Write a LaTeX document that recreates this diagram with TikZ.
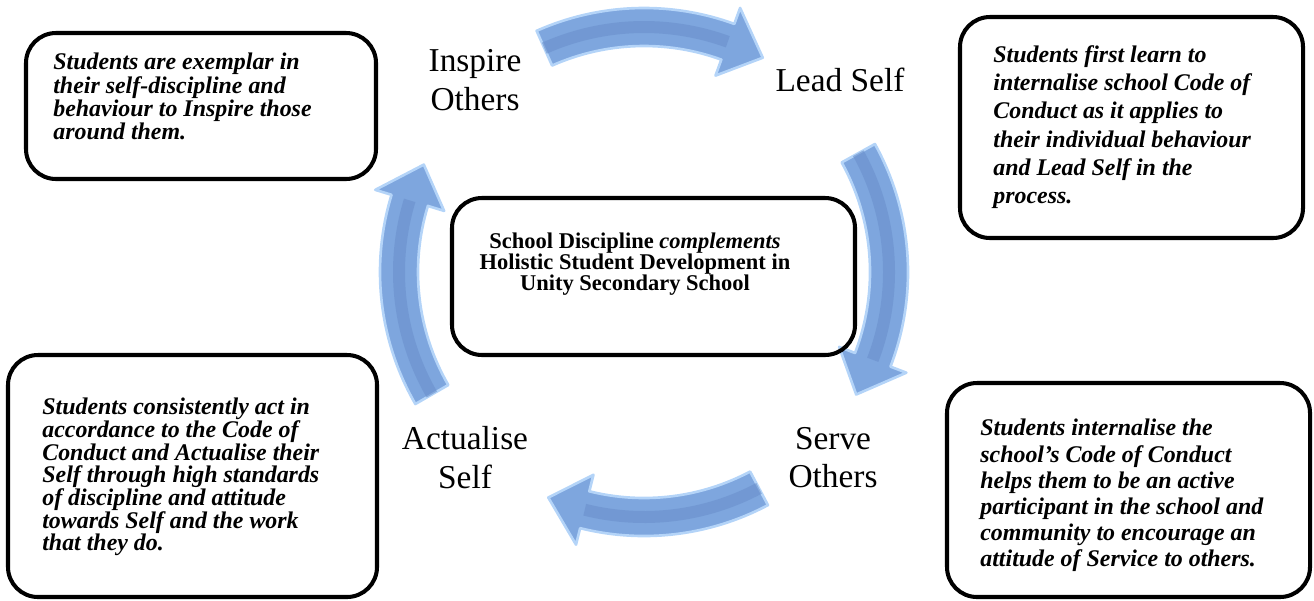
\documentclass[tikz,border=0pt]{standalone}
\usepackage{fontspec}
\setmainfont{Liberation Serif}
\definecolor{arrowfill}{RGB}{126,166,222}
\definecolor{arrowcore}{RGB}{106,144,204}
\definecolor{arrowglow}{RGB}{180,212,248}
\begin{document}
\begin{tikzpicture}[
    descbox/.style={draw, line width=2.3pt, rounded corners=0.6cm, inner sep=0},
    desctext/.style={anchor=north west, inner sep=0, align=left},
    stage/.style={align=center, inner sep=0, font=\fontsize{19}{22}\selectfont},
  ]
    \useasboundingbox (0,0) rectangle (26.28,-12);
    \def\cycR{4.9}
    \def\cycW{0.38}
    \def\cycH{0.72}

    % the four curved block arrows of the cycle
    \begin{scope}[shift={(12.88,-5.44)}]
    \foreach \a/\b in {114/61, 29/-30, -62/-113, -150/-206}{
        \draw[arrowglow, line width=1.5pt, fill=arrowfill, line join=round]
            (\a:\cycR+\cycW) arc[start angle=\a, end angle=\b+9, radius=\cycR+\cycW]
            -- (\b+9:\cycR+\cycH) -- (\b:\cycR) -- (\b+9:\cycR-\cycH)
            -- (\b+9:\cycR-\cycW) arc[start angle=\b+9, end angle=\a, radius=\cycR-\cycW] -- cycle;
        \draw[arrowcore, opacity=0.6, line width=0.24cm]
            (\a:\cycR) arc[start angle=\a, end angle=\b+9, radius=\cycR];
    }
    \end{scope}

    % stage names
    \node[stage] (inspire) at (9.5,-1.6) {Inspire\\Others};
    \node[stage] (lead) at (16.8,-1.6) {Lead Self};
    \node[stage] (serve) at (16.66,-9.15) {Serve\\Others};
    \node[stage] (actualise) at (9.3,-9.15) {Actualise\\Self};

    % centre box
    \node[descbox, minimum width=8.06cm, minimum height=3.14cm] (centre) at (13.07,-5.53) {};
    \node[align=center, inner sep=0, font=\fontsize{12.8}{12}\selectfont\bfseries] (centretext) at (12.7,-5.29)
        {School Discipline \textit{complements}\\Holistic Student Development in\\Unity Secondary School};

    % description boxes
    \node[descbox, minimum width=7cm, minimum height=2.92cm] (inspirebox) at (4.02,-2.12) {};
    \node[desctext, font=\fontsize{13.6}{13.2}\selectfont\bfseries\itshape] (inspiretext) at (1.06,-1.06)
        {Students are exemplar in\\their self-discipline and\\behaviour to Inspire those\\around them.};

    \node[descbox, minimum width=6.86cm, minimum height=4.42cm] (leadbox) at (22.63,-2.55) {};
    \node[desctext, font=\fontsize{13.6}{16.1}\selectfont\bfseries\itshape] (leadtext) at (19.86,-0.9)
        {Students first learn to\\internalise school Code of\\Conduct as it applies to\\their individual behaviour\\and Lead Self in the\\process.};

    \node[descbox, minimum width=7.38cm, minimum height=4.84cm] (actualisebox) at (3.85,-9.52) {};
    \node[desctext, font=\fontsize{13.6}{12.9}\selectfont\bfseries\itshape] (actualisetext) at (0.84,-7.96)
        {Students consistently act in\\accordance to the Code of\\Conduct and Actualise their\\Self through high standards\\of discipline and attitude\\towards Self and the work\\that they do.};

    \node[descbox, minimum width=7.26cm, minimum height=4.28cm] (servebox) at (22.57,-9.8) {};
    \node[desctext, font=\fontsize{13.6}{14.9}\selectfont\bfseries\itshape] (servetext) at (19.6,-8.38)
        {Students internalise the\\school’s Code of Conduct\\helps them to be an active\\participant in the school and\\community to encourage an\\attitude of Service to others.};
\end{tikzpicture}
\end{document}
